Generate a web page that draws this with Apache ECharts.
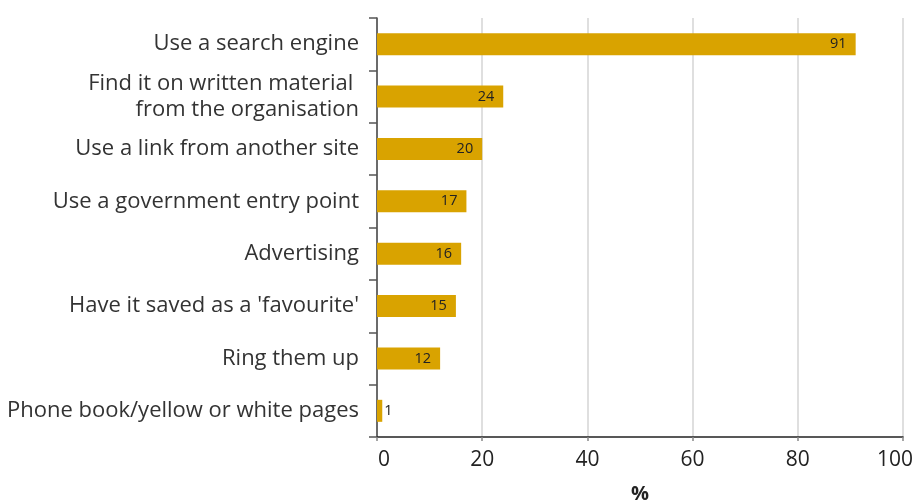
<!DOCTYPE html>
<html>
<head>
<meta charset="utf-8">
<script src="https://cdn.jsdelivr.net/npm/echarts@6/dist/echarts.min.js"></script>
<style>
  html, body { margin: 0; padding: 0; background: #fff; }
  #chart { width: 916px; height: 502px; }
</style>
</head>
<body>
<div id="chart"></div>
<script>
// How people find an organisation's website (% of respondents)
const categories = [
  'Use a search engine',
  'Find it on written material \nfrom the organisation',
  'Use a link from another site',
  'Use a government entry point',
  'Advertising',
  "Have it saved as a 'favourite'",
  'Ring them up',
  'Phone book/yellow or white pages'
];
const values = [91, 24, 20, 17, 16, 15, 12, 1];
const xTicks = [0, 20, 40, 60, 80, 100];

const FONT = '"Open Sans", "Noto Sans", sans-serif';
const BAR = '#d9a300';

const chart = echarts.init(document.getElementById('chart'));

chart.setOption({
  animation: false,
  backgroundColor: '#fff',
  grid: {
    left: 377, right: 13, top: 18, bottom: 65,
    containLabel: false,
    outerBoundsMode: 'none'
  },
  xAxis: {
    type: 'value',
    min: xTicks[0],
    max: xTicks[xTicks.length - 1],
    interval: 20,
    name: '%',
    nameLocation: 'middle',
    nameGap: 47,
    nameTextStyle: { fontFamily: FONT, fontSize: 20, fontWeight: 'bold', color: '#222' },
    axisLine: { show: true, lineStyle: { color: '#222', width: 1.5 } },
    axisTick: { show: true, length: 4, lineStyle: { color: '#888', width: 1.5 } },
    splitLine: { show: true, lineStyle: { color: '#d4d4d4', width: 1.5 } },
    axisLabel: {
      fontFamily: FONT, fontSize: 21, color: '#222', margin: 13,
      formatter: function (v) {
        if (v === xTicks[0]) return '{first|' + v + '}';
        if (v === xTicks[xTicks.length - 1]) return '{last|' + v + '}';
        return String(v);
      },
      rich: {
        first: { fontFamily: FONT, fontSize: 21, color: '#222', padding: [0, 0, 0, 14] },
        last: { fontFamily: FONT, fontSize: 21, color: '#222', padding: [0, 16, 0, 0] }
      }
    }
  },
  yAxis: {
    type: 'category',
    data: categories,
    inverse: true,
    axisLine: { show: true, lineStyle: { color: '#444', width: 1.5 } },
    axisTick: { show: true, length: 8, inside: false, lineStyle: { color: '#555', width: 1.5 } },
    splitLine: { show: false },
    axisLabel: {
      fontFamily: FONT, fontSize: 22, color: '#333', margin: 18,
      lineHeight: 26, align: 'right'
    }
  },
  series: [{
    type: 'bar',
    data: values.map(function (v) {
      return {
        value: v,
        label: v < 5 ? { position: 'right', distance: 2 } : undefined
      };
    }),
    barWidth: 22,
    itemStyle: { color: BAR },
    label: {
      show: true,
      position: 'insideRight',
      distance: 9,
      fontFamily: FONT,
      fontSize: 14.5,
      color: '#222'
    }
  }]
});
</script>
</body>
</html>
